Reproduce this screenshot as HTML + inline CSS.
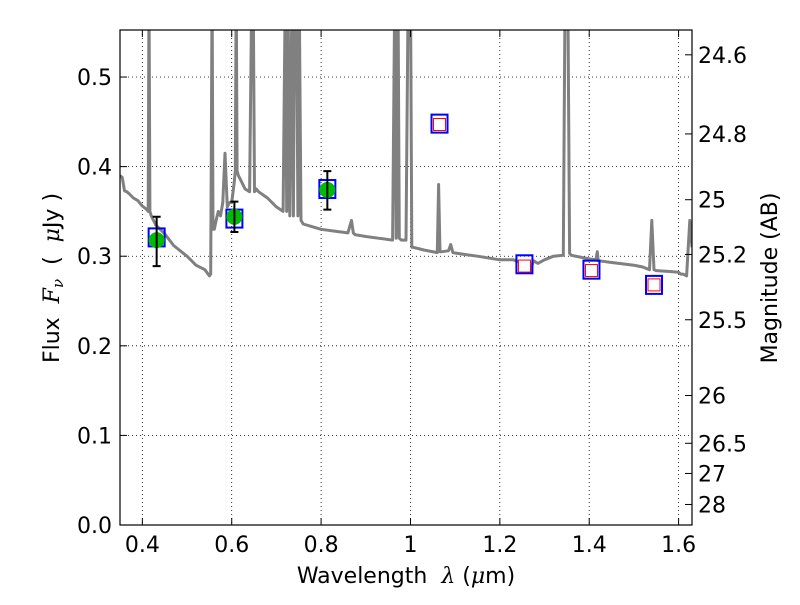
<!DOCTYPE html>
<html><head><meta charset="utf-8"><style>
body{margin:0;background:#fff}
svg text{font-family:"DejaVu Sans","Liberation Sans",sans-serif;fill:#000;white-space:pre}
</style></head><body>
<svg id="chart" width="800" height="600" xmlns="http://www.w3.org/2000/svg">
<rect width="800" height="600" fill="#fff"/>
<g id="grid"></g>
<g id="plot"></g>
<g id="axes"></g>
<text x="406" y="583" font-size="22" text-anchor="middle">Wavelength  <tspan font-family="DejaVu Serif" font-style="italic">λ</tspan> (<tspan font-family="DejaVu Serif" font-style="italic">μ</tspan>m)</text>
<text transform="translate(59,278) rotate(-90)" font-size="22" text-anchor="middle">Flux  <tspan font-family="DejaVu Serif" font-style="italic">F<tspan font-size="15" dy="4">ν</tspan></tspan><tspan dy="-4">  (  </tspan><tspan font-family="DejaVu Serif" font-style="italic">μ</tspan>Jy )</text>
<text transform="translate(777,278) rotate(-90)" font-size="22" text-anchor="middle">Magnitude (AB)</text>
</svg>
<script>
const specWave=[0.35,0.355,0.36,0.365,0.37,0.38,0.39,0.40,0.41,0.413,0.415,0.417,0.42,0.43,0.45,0.47,0.50,0.52,0.54,0.55,0.553,0.556,0.558,0.561,0.565,0.57,0.575,0.58,0.585,0.59,0.595,0.60,0.605,0.608,0.61,0.612,0.615,0.62,0.63,0.64,0.645,0.648,0.651,0.655,0.66,0.68,0.70,0.715,0.72,0.723,0.726,0.73,0.735,0.738,0.741,0.745,0.748,0.751,0.755,0.76,0.78,0.80,0.83,0.86,0.868,0.872,0.876,0.90,0.93,0.96,0.965,0.968,0.972,0.975,0.98,0.99,0.995,1.0,1.003,1.006,1.03,1.06,1.063,1.066,1.07,1.085,1.09,1.095,1.12,1.15,1.2,1.23,1.25,1.262,1.268,1.275,1.285,1.30,1.32,1.342,1.346,1.352,1.356,1.36,1.38,1.40,1.415,1.418,1.42,1.45,1.5,1.52,1.535,1.54,1.545,1.55,1.58,1.60,1.605,1.61,1.618,1.625,1.63];
const specFlux=[0.39,0.388,0.373,0.372,0.37,0.365,0.362,0.356,0.352,0.35,0.6,0.35,0.345,0.335,0.325,0.312,0.3,0.29,0.285,0.278,0.28,0.6,0.33,0.33,0.34,0.35,0.345,0.36,0.415,0.355,0.36,0.36,0.38,0.395,0.6,0.395,0.39,0.385,0.375,0.372,0.6,0.6,0.372,0.375,0.372,0.365,0.355,0.35,0.6,0.35,0.6,0.345,0.6,0.345,0.6,0.6,0.345,0.6,0.34,0.336,0.333,0.33,0.328,0.326,0.34,0.326,0.324,0.322,0.32,0.318,0.6,0.32,0.6,0.32,0.318,0.318,0.6,0.6,0.31,0.31,0.307,0.304,0.38,0.305,0.305,0.306,0.313,0.304,0.302,0.3,0.296,0.296,0.292,0.288,0.283,0.295,0.292,0.296,0.3,0.301,0.6,0.6,0.303,0.301,0.299,0.297,0.296,0.305,0.295,0.293,0.29,0.288,0.285,0.34,0.285,0.284,0.283,0.282,0.28,0.28,0.278,0.34,0.31];
const photWave=[0.432,0.606,0.814];
const photFlux=[0.318,0.344,0.374];
const photLo=[0.289,0.327,0.352];
const photHi=[0.344,0.361,0.395];
const modelWave=[0.432,0.606,0.814,1.065,1.255,1.405,1.545];
const modelFlux=[0.321,0.342,0.375,0.448,0.291,0.285,0.268];
const predWave=[1.065,1.255,1.405,1.545];
const predFlux=[0.447,0.289,0.284,0.268];
const xTicks=[0.4,0.6,0.8,1.0,1.2,1.4,1.6];
const xTickLabels=["0.4","0.6","0.8","1","1.2","1.4","1.6"];
const yTicks=[0,0.1,0.2,0.3,0.4,0.5];
const yTickLabels=["0.0","0.1","0.2","0.3","0.4","0.5"];
const magTicks=[24.6,24.8,25,25.2,25.5,26,26.5,27,28];
const magTickLabels=["24.6","24.8","25","25.2","25.5","26","26.5","27","28"];

const L=120,R=692,T=30,B=525,XMIN=0.35,XMAX=1.63,YMIN=0,YMAX=0.5525;
const xs=v=>L+(v-XMIN)/(XMAX-XMIN)*(R-L);
const ys=v=>B-(v-YMIN)/(YMAX-YMIN)*(B-T);
const NS="http://www.w3.org/2000/svg";
function mk(tag,attrs,parent){const e=document.createElementNS(NS,tag);for(const k in attrs)e.setAttribute(k,attrs[k]);parent.appendChild(e);return e;}
const grid=document.getElementById('grid'),plot=document.getElementById('plot'),axes=document.getElementById('axes');
const svg=document.getElementById('chart');
const defs=mk('defs',{},svg);const cp=mk('clipPath',{id:'clip'},defs);mk('rect',{x:L,y:T,width:R-L,height:B-T},cp);
plot.setAttribute('clip-path','url(#clip)');

xTicks.forEach((t,i)=>{
  const g=mk('line',{x1:xs(t),x2:xs(t),y1:T,y2:B,stroke:'#000','stroke-width':0.8,'stroke-dasharray':'1,3'},grid);
  
  
  mk('line',{x1:xs(t),x2:xs(t),y1:B,y2:B-7,stroke:'#000'},axes);
  mk('line',{x1:xs(t),x2:xs(t),y1:T,y2:T+7,stroke:'#000'},axes);
  const tx=mk('text',{x:xs(t),y:B+27,'font-size':22,'text-anchor':'middle'},axes);
  tx.textContent=xTickLabels[i];
  
  
});
yTicks.forEach((t,i)=>{
  const g=mk('line',{x1:L,x2:R,y1:ys(t),y2:ys(t),stroke:'#000','stroke-width':0.8,'stroke-dasharray':'1,3'},grid);
  
  
  mk('line',{x1:L,x2:L+7,y1:ys(t),y2:ys(t),stroke:'#000'},axes);
  const tx=mk('text',{x:L-8,y:ys(t)+8,'font-size':22,'text-anchor':'end'},axes);
  tx.textContent=yTickLabels[i];
  
  
});
magTicks.forEach((m,i)=>{
  const f=Math.pow(10,(23.9-m)/2.5);const y=ys(f);
  mk('line',{x1:R-7,x2:R,y1:y,y2:y,stroke:'#000'},axes);
  const tx=mk('text',{x:R+6,y:y+8,'font-size':22},axes);
  tx.textContent=magTickLabels[i];
  
  
});
mk('rect',{x:L,y:T,width:R-L,height:B-T,fill:'none',stroke:'#000','stroke-width':1.2},axes);

const sp=mk('path',{d:specWave.map((w,i)=>(i?'L':'M')+xs(w).toFixed(1)+','+ys(specFlux[i]).toFixed(1)).join(''),fill:'none',stroke:'#808080','stroke-width':3,'stroke-linejoin':'round'},plot);



modelWave.forEach((w,i)=>{
  const r=mk('rect',{x:xs(w)-8,y:ys(modelFlux[i])-9,width:16,height:18,fill:'none',stroke:'#0000ff','stroke-width':2},plot);
  
  
});
predWave.forEach((w,i)=>{
  const r=mk('rect',{x:xs(w)-6,y:ys(predFlux[i])-6,width:12,height:12,fill:'#fff',stroke:'#ff0000','stroke-width':1},plot);
  
  
});
photWave.forEach((w,i)=>{
  const x=xs(w);
  const c=mk('circle',{cx:x,cy:ys(photFlux[i]),r:8,fill:'#00bb00'},plot);
  
  
  const e=mk('path',{d:`M${x},${ys(photLo[i])}L${x},${ys(photHi[i])}M${x-4},${ys(photLo[i])}L${x+4},${ys(photLo[i])}M${x-4},${ys(photHi[i])}L${x+4},${ys(photHi[i])}`,stroke:'#000','stroke-width':2,fill:'none'},plot);
  
  
});
</script>
</body></html>
